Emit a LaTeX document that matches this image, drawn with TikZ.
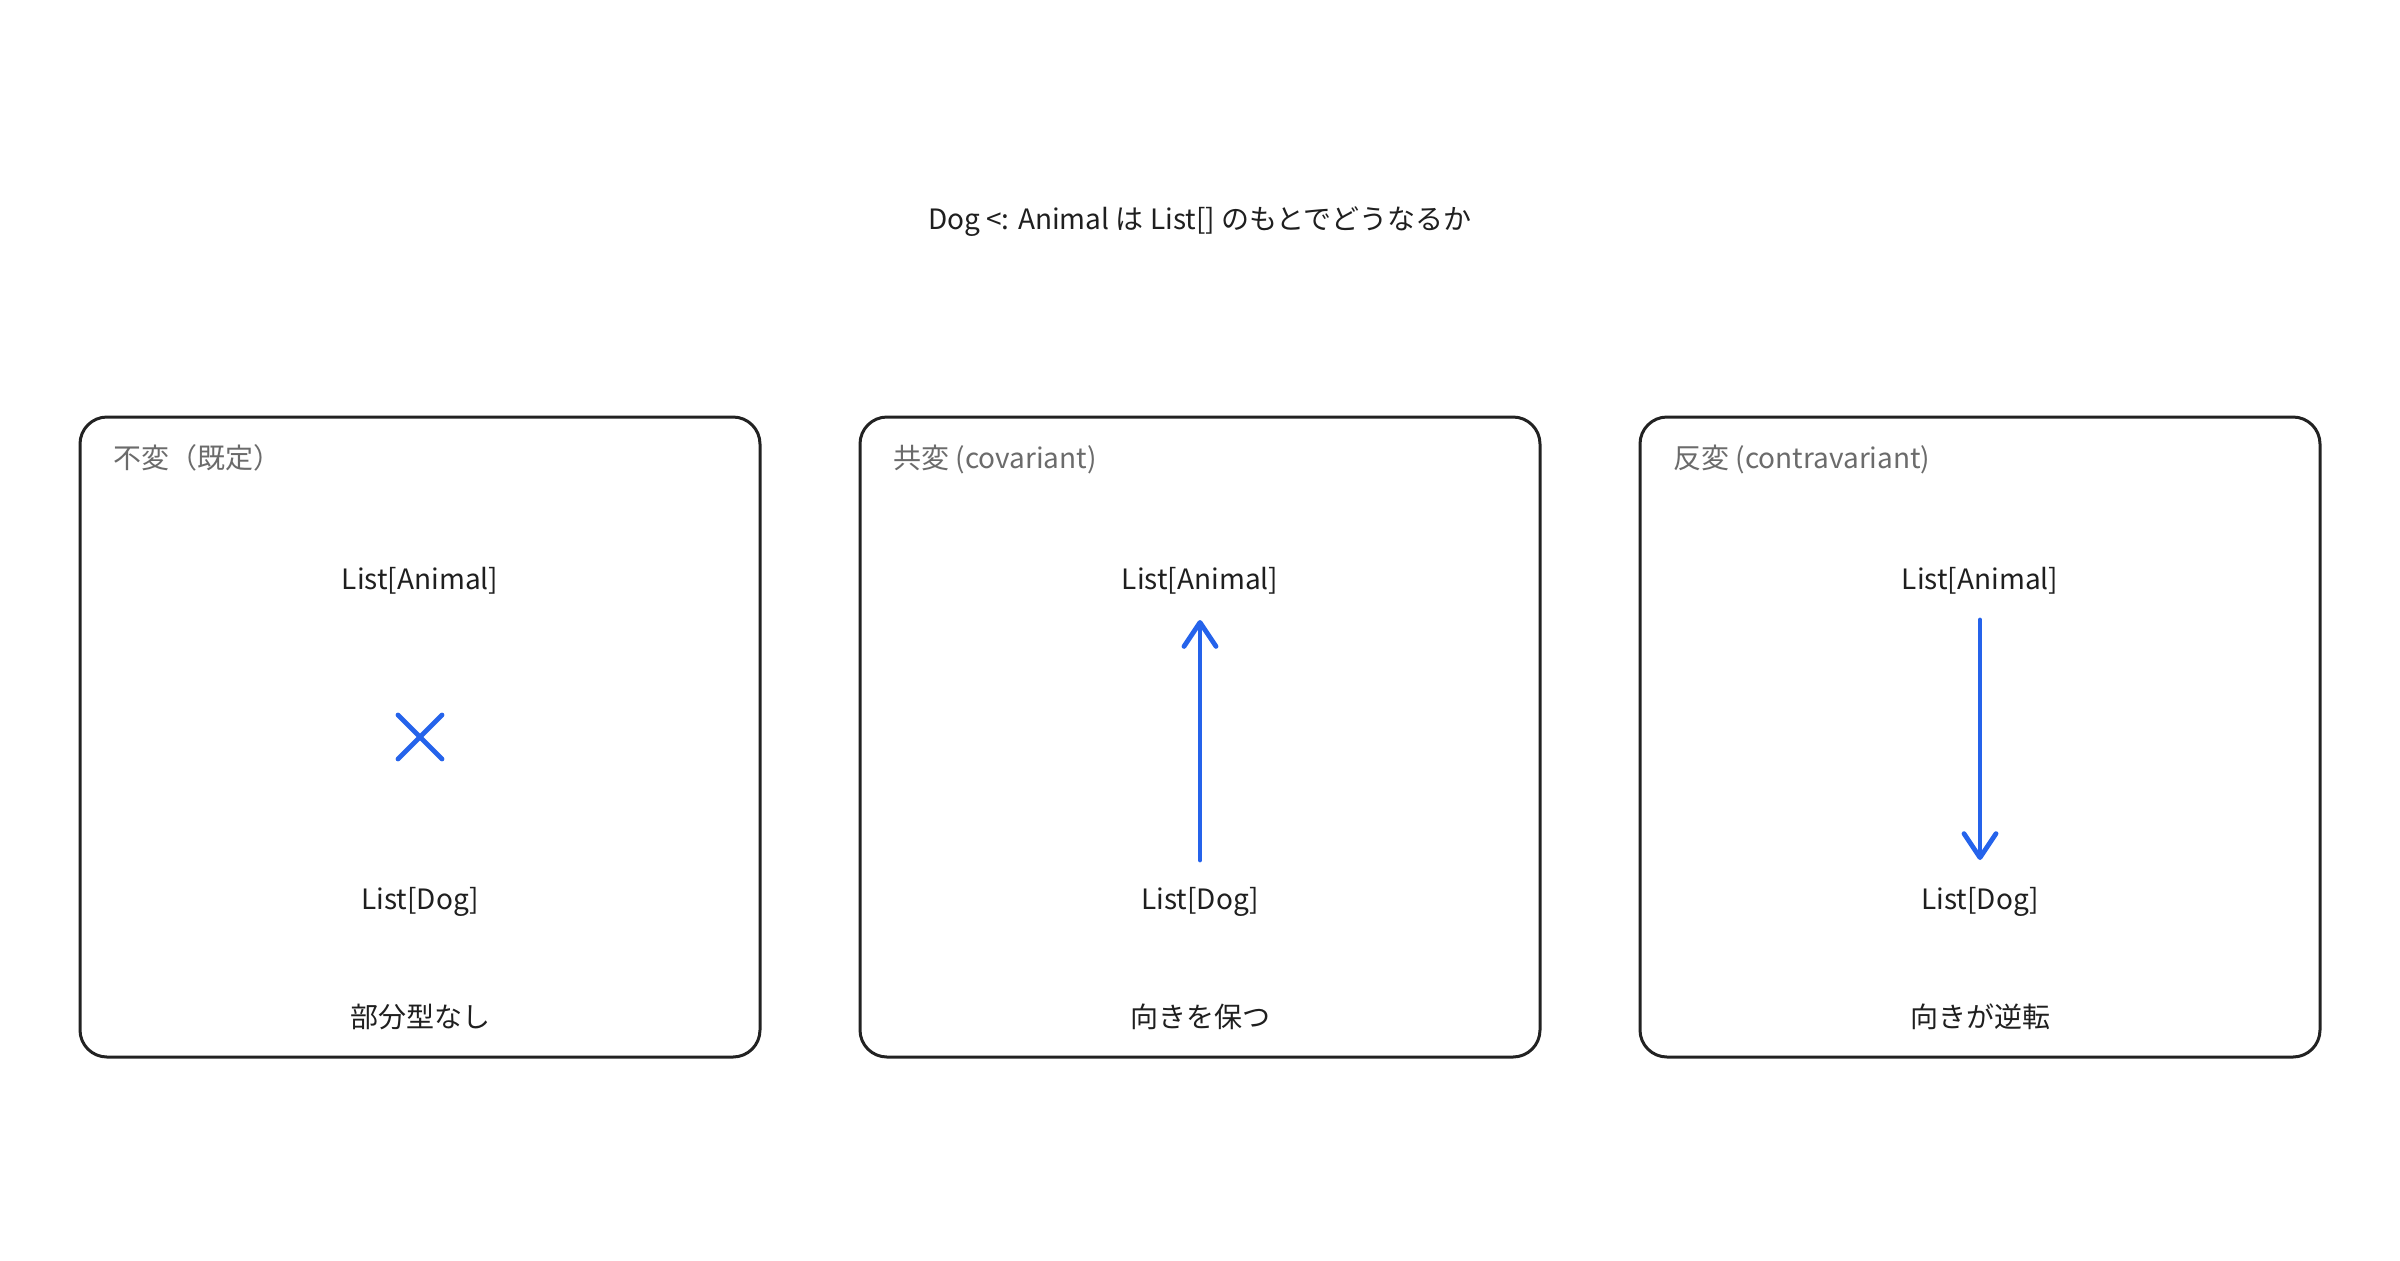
\documentclass[tikz,border=0pt]{standalone}
\usepackage{fontspec}
\setmainfont{Noto Sans CJK JP}
\usetikzlibrary{arrows.meta}
\definecolor{linkblue}{HTML}{2563EB}
\definecolor{captiongray}{HTML}{6B6B6B}
\definecolor{frameblack}{HTML}{222222}

\begin{document}
\begin{tikzpicture}[x=0.5pt, y=-0.5pt,
    panel/.style={draw=frameblack, line width=1.5pt, rounded corners=13.5pt},
    typename/.style={font=\fontsize{14}{17}\selectfont, text=black!88, anchor=base, inner sep=0pt},
    caption/.style={font=\fontsize{14}{17}\selectfont, text=captiongray, anchor=base west, inner sep=0pt},
    verdict/.style={font=\fontsize{14}{17}\selectfont, text=black!88, anchor=base, inner sep=0pt},
    link/.style={draw=linkblue, line width=2.4pt, line cap=round, -{Straight Barb[round, length=12pt, width=16pt]}}]
    \useasboundingbox (0, 0) rectangle (2400, 1260);
    \node[verdict] (Title) at (1200, 229) {Dog <: Animal は List[] のもとでどうなるか};

    \draw[panel] (80, 417) rectangle (760, 1057);
    \draw[panel] (860, 417) rectangle (1540, 1057);
    \draw[panel] (1640, 417) rectangle (2320, 1057);

    \node[caption] (Inv Caption) at (113, 468) {不変（既定）};
    \node[caption] (Co Caption) at (893, 468) {共変 (covariant)};
    \node[caption] (Contra Caption) at (1673, 468) {反変 (contravariant)};

    \node[typename] (Inv Animal) at (420, 589) {List[Animal]};
    \node[typename] (Co Animal) at (1200, 589) {List[Animal]};
    \node[typename] (Contra Animal) at (1980, 589) {List[Animal]};
    \node[typename] (Inv Dog) at (420, 909) {List[Dog]};
    \node[typename] (Co Dog) at (1200, 909) {List[Dog]};
    \node[typename] (Contra Dog) at (1980, 909) {List[Dog]};

    \node[verdict] (Inv Verdict) at (420, 1027) {部分型なし};
    \node[verdict] (Co Verdict) at (1200, 1027) {向きを保つ};
    \node[verdict] (Contra Verdict) at (1980, 1027) {向きが逆転};

    \coordinate (Co Top) at (1200, 620);
    \coordinate (Co Bottom) at (1200, 860);
    \coordinate (Contra Top) at (1980, 620);
    \coordinate (Contra Bottom) at (1980, 860);
    \coordinate (Inv Cross) at (420, 737);

    \draw[link] (Co Bottom) -- (Co Top);
    \draw[link] (Contra Top) -- (Contra Bottom);
    \draw[linkblue, line width=2.4pt, line cap=round] ([shift={(-22, -22)}]Inv Cross) -- ([shift={(22, 22)}]Inv Cross);
    \draw[linkblue, line width=2.4pt, line cap=round] ([shift={(-22, 22)}]Inv Cross) -- ([shift={(22, -22)}]Inv Cross);
\end{tikzpicture}
\end{document}
